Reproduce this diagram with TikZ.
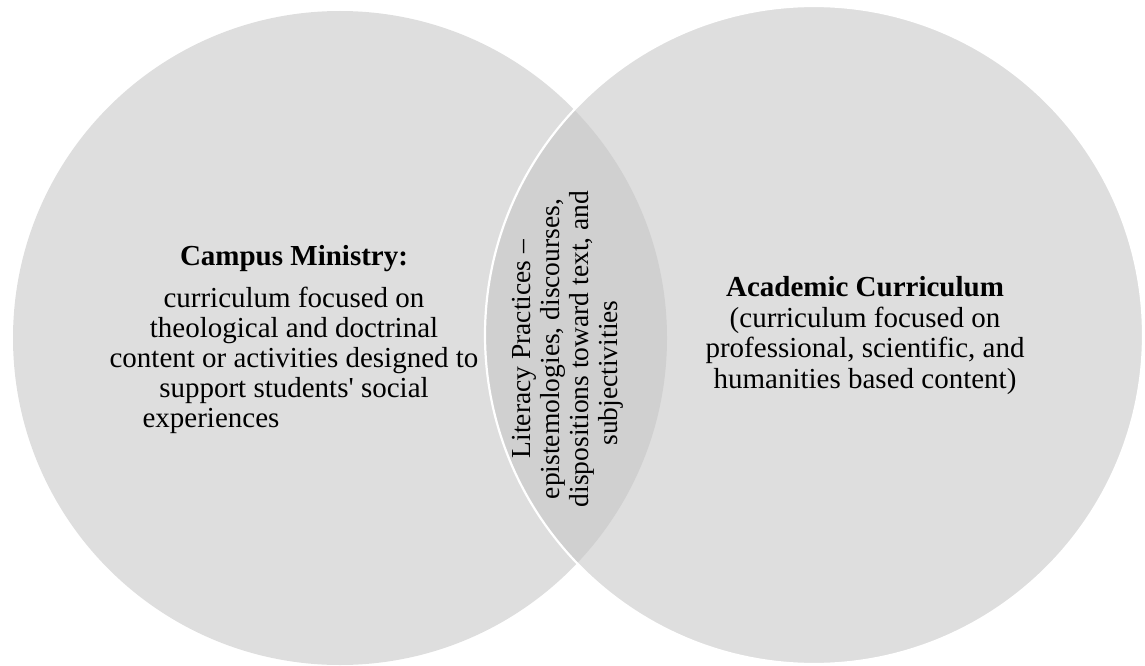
\documentclass[tikz,border=0pt]{standalone}
\usepackage{fontspec}
\setmainfont{Liberation Serif}
\definecolor{circfill}{RGB}{222,222,222}
\definecolor{lensfill}{RGB}{208,208,208}
\begin{document}
\begin{tikzpicture}[x=1pt,y=-1pt,
  txt/.style={inner sep=0pt, align=center, text=black, font=\fontsize{29}{30}\selectfont},
  ]
\useasboundingbox (0,0) rectangle (1145,666);
\coordinate (cl) at (340,338);
\coordinate (cr) at (814,335);
% circles
\fill[circfill] (cl) circle (327);
\fill[circfill] (cr) circle (329);
\begin{scope}
  \clip (cl) circle (327);
  \fill[lensfill] (cr) circle (329);
\end{scope}
\draw[white, line width=2.2pt] (cr) circle (329);
% texts (base anchor = baseline of last line)
\node[txt, anchor=base] (ltxt) at (294,427) {\textbf{Campus Ministry:}\\[12pt]
curriculum focused on\\
theological and doctrinal\\
content or activities designed to\\
support students\textquotesingle{} social\\
experiences\hspace*{166pt}};
\node[txt, anchor=base, font=\fontsize{29}{30.5}\selectfont] (rtxt) at (865,388) {\textbf{Academic Curriculum}\\
(curriculum focused on\\
professional, scientific, and\\
humanities based content)};
\node[txt, anchor=base, rotate=90, font=\fontsize{27.5}{29}\selectfont] (mtxt) at (617,349) {Literacy Practices –\\
epistemologies, discourses,\\
dispositions toward text, and\\
subjectivities\hspace*{48pt}};
\end{tikzpicture}
\end{document}
